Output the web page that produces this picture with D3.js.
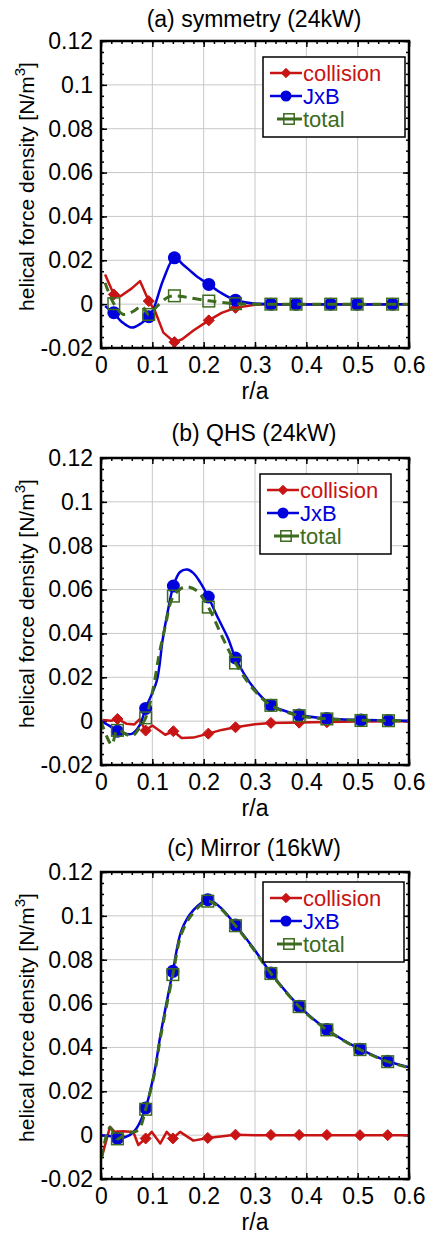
<!DOCTYPE html>
<html><head><meta charset="utf-8">
<script src="https://cdn.jsdelivr.net/npm/d3@7"></script>
<style>
html,body{margin:0;padding:0;background:#fff;}
svg{display:block;font-family:"Liberation Sans",Arial,Helvetica,sans-serif;}
</style></head>
<body>
<svg id="chart" width="426" height="1236"></svg>
<script>
// ---------- data ----------
const titles = ["(a) symmetry (24kW)", "(b) QHS (24kW)", "(c) Mirror (16kW)"];
const seriesNames = ["collision", "JxB", "total"];
const xTicks = [0, 0.1, 0.2, 0.3, 0.4, 0.5, 0.6];
const xTickLabels = ["0", "0.1", "0.2", "0.3", "0.4", "0.5", "0.6"];
const yTicks = [-0.02, 0, 0.02, 0.04, 0.06, 0.08, 0.1, 0.12];
const yTickLabels = ["-0.02", "0", "0.02", "0.04", "0.06", "0.08", "0.1", "0.12"];

// panel (a) symmetry
const aCollisionLine = [[0.008,0.0135],[0.025,0.0044],[0.038,0.0036],[0.06,0.0072],[0.076,0.0105],[0.093,0.0014],[0.105,-0.003],[0.1215,-0.013],[0.143,-0.0173],[0.158,-0.016],[0.18,-0.012],[0.21,-0.0074],[0.235,-0.004],[0.262,-0.0017],[0.3,-0.0003],[0.33,0],[0.6,0]];
const aJxBLine = [[0.008,-0.0009],[0.025,-0.0042],[0.04,-0.008],[0.06,-0.0107],[0.078,-0.0088],[0.093,-0.0057],[0.102,-0.0024],[0.1215,0.0112],[0.143,0.0211],[0.16,0.018],[0.185,0.013],[0.21,0.009],[0.235,0.005],[0.262,0.0018],[0.294,0.0004],[0.33,0],[0.6,0]];
const aTotalLine = [[0.008,0.0097],[0.025,0.0002],[0.0435,-0.0047],[0.0636,-0.0032],[0.079,-0.0009],[0.093,-0.0047],[0.105,-0.002],[0.1286,0.0029],[0.143,0.0038],[0.165,0.0032],[0.21,0.0015],[0.262,0.0002],[0.3,0],[0.6,0]];
const aCollisionMarks = [[0.025,0.0044],[0.093,0.0014],[0.143,-0.0173],[0.21,-0.0074],[0.262,-0.0017],[0.331,0],[0.38,0],[0.4475,0],[0.499,0],[0.568,0]];
const aJxBMarks = [[0.025,-0.0039],[0.093,-0.0057],[0.143,0.0211],[0.21,0.009],[0.262,0.0018],[0.331,0],[0.38,0],[0.4475,0],[0.499,0],[0.568,0]];
const aTotalMarks = [[0.025,0.0002],[0.093,-0.0047],[0.143,0.0038],[0.21,0.0014],[0.262,0.0002],[0.331,0],[0.38,0],[0.4475,0],[0.499,0],[0.568,0]];

// panel (b) QHS
const bCollisionLine = [[0.003,0.0005],[0.02,0.0002],[0.032,0.001],[0.05,-0.0012],[0.065,-0.0015],[0.075,0.0008],[0.087,-0.0043],[0.1,-0.002],[0.125,-0.0062],[0.141,-0.0046],[0.157,-0.0077],[0.18,-0.0075],[0.209,-0.0057],[0.235,-0.004],[0.262,-0.0028],[0.3,-0.0014],[0.331,-0.0008],[0.386,-0.0006],[0.44,-0.0004],[0.5,-0.0002],[0.6,0]];
const bJxBLine = [[0,0],[0.0175,-0.0023],[0.032,-0.0046],[0.06,-0.0058],[0.075,-0.002],[0.087,0.0058],[0.1085,0.0183],[0.12,0.037],[0.13,0.05],[0.141,0.0616],[0.154,0.068],[0.168,0.0691],[0.18,0.0675],[0.193,0.0634],[0.209,0.0566],[0.228,0.047],[0.248,0.0375],[0.262,0.0288],[0.297,0.0153],[0.331,0.0073],[0.36,0.0045],[0.386,0.0028],[0.44,0.0012],[0.5,0.0006],[0.56,0.0003],[0.6,0.0002]];
const bTotalLine = [[0,0],[0.021,-0.0107],[0.032,-0.0042],[0.06,-0.0069],[0.075,-0.003],[0.087,0.0015],[0.102,0.0153],[0.113,0.03],[0.125,0.043],[0.141,0.057],[0.163,0.0612],[0.186,0.0596],[0.209,0.052],[0.238,0.0375],[0.262,0.0265],[0.297,0.0145],[0.331,0.0072],[0.386,0.0025],[0.44,0.001],[0.5,0.0004],[0.6,0.0001]];
const bCollisionMarks = [[0.032,0.001],[0.087,-0.0043],[0.141,-0.0046],[0.209,-0.0057],[0.262,-0.0028],[0.331,-0.0008],[0.386,-0.0007],[0.44,-0.0005],[0.5065,-0.0002],[0.56,-0.0001]];
const bJxBMarks = [[0.032,-0.0046],[0.087,0.0058],[0.141,0.0616],[0.209,0.0566],[0.262,0.0288],[0.331,0.0073],[0.386,0.0028],[0.44,0.0012],[0.5065,0.0005],[0.56,0.0003]];
const bTotalMarks = [[0.032,-0.0042],[0.087,0.0015],[0.141,0.057],[0.209,0.052],[0.262,0.0265],[0.331,0.0072],[0.386,0.0025],[0.44,0.001],[0.5065,0.0003],[0.56,0.0002]];

// panel (c) Mirror
const cCollisionLine = [[0.001,-0.0105],[0.0175,0.0038],[0.027,0.0015],[0.0435,0.0018],[0.063,0.0014],[0.0727,-0.0045],[0.087,-0.0015],[0.0987,0.0015],[0.1155,-0.0038],[0.128,0.0015],[0.14,-0.0015],[0.154,0.0015],[0.18,-0.0025],[0.208,-0.0013],[0.262,0.0002],[0.3,0],[0.6,0]];
const cJxBLine = [[0,0],[0.02,-0.0005],[0.032,-0.0015],[0.056,0],[0.069,0.003],[0.087,0.0124],[0.105,0.03],[0.1155,0.0452],[0.14,0.0747],[0.157,0.0935],[0.18,0.1026],[0.208,0.1074],[0.232,0.104],[0.262,0.0958],[0.297,0.0852],[0.331,0.0739],[0.386,0.0588],[0.44,0.0482],[0.5045,0.0392],[0.5585,0.0337],[0.6,0.031]];
const cTotalLine = [[0.001,-0.0105],[0.0175,0.0035],[0.032,-0.0017],[0.05,0.001],[0.065,0.0015],[0.075,0.003],[0.087,0.0118],[0.105,0.029],[0.1155,0.044],[0.14,0.0732],[0.157,0.092],[0.18,0.1015],[0.208,0.1067],[0.232,0.1035],[0.262,0.0955],[0.297,0.0848],[0.331,0.0737],[0.386,0.0586],[0.44,0.048],[0.5045,0.039],[0.5585,0.0335],[0.6,0.0308]];
const cCollisionMarks = [[0.032,-0.0005],[0.087,-0.0015],[0.14,-0.0015],[0.208,-0.0013],[0.262,0.0002],[0.331,0.0001],[0.386,0.0001],[0.44,0.0001],[0.5045,0],[0.5585,0]];
const cJxBMarks = [[0.032,-0.0015],[0.087,0.0124],[0.14,0.0747],[0.208,0.1074],[0.262,0.0958],[0.331,0.0739],[0.386,0.0588],[0.44,0.0482],[0.5045,0.0392],[0.5585,0.0337]];
const cTotalMarks = [[0.032,-0.0017],[0.087,0.0118],[0.14,0.0732],[0.208,0.1067],[0.262,0.0955],[0.331,0.0737],[0.386,0.0586],[0.44,0.048],[0.5045,0.039],[0.5585,0.0335]];

// ---------- layout / style ----------
const colors = {collision:"#c81414", JxB:"#0000dd", total:"#3c6b1e"};
const panels = [
  {title:titles[0], top:41, titleY:27, legend:{x:263,y:57,w:142,h:80},
   lines:[aCollisionLine,aJxBLine,aTotalLine], marks:[aCollisionMarks,aJxBMarks,aTotalMarks]},
  {title:titles[1], top:458, titleY:441, legend:{x:260,y:474,w:131,h:80},
   lines:[bCollisionLine,bJxBLine,bTotalLine], marks:[bCollisionMarks,bJxBMarks,bTotalMarks]},
  {title:titles[2], top:872, titleY:856, legend:{x:263,y:882,w:141,h:80},
   lines:[cCollisionLine,cJxBLine,cTotalLine], marks:[cCollisionMarks,cJxBMarks,cTotalMarks]}
];
const L = 101, R = 409, H = 307;
const FONT = '"Liberation Sans",Arial,Helvetica,sans-serif';

const svg = d3.select("#chart");

function drawMarker(g, kind, cx, cy, scale) {
  scale = scale || 1;
  if (kind === "collision") {
    const s = 5.5*scale;
    g.append("path").attr("d", `M${cx},${cy-s}L${cx+s},${cy}L${cx},${cy+s}L${cx-s},${cy}Z`)
      .attr("fill", colors.collision).attr("stroke", colors.collision).attr("stroke-width", 1);
  } else if (kind === "JxB") {
    g.append("circle").attr("cx", cx).attr("cy", cy).attr("r", 6.5*scale).attr("fill", colors.JxB);
  } else {
    const s = 5.8*scale;
    g.append("rect").attr("x", cx-s).attr("y", cy-s).attr("width", 2*s).attr("height", 2*s)
      .attr("fill", "none").attr("stroke", colors.total).attr("stroke-width", 1.5);
  }
}

panels.forEach(p => {
  const top = p.top, bottom = p.top + H;
  const x = d3.scaleLinear().domain([0, 0.6]).range([L, R]);
  const y = d3.scaleLinear().domain([-0.02, 0.12]).range([bottom, top]);
  const g = svg.append("g");

  // grid
  g.append("g").selectAll("line").data(xTicks.slice(1, -1)).join("line")
    .attr("x1", d => x(d)).attr("x2", d => x(d)).attr("y1", top).attr("y2", bottom)
    .attr("stroke", "#c8c8c8").attr("stroke-width", 1);
  g.append("g").selectAll("line").data(yTicks.slice(1, -1)).join("line")
    .attr("y1", d => y(d)).attr("y2", d => y(d)).attr("x1", L).attr("x2", R)
    .attr("stroke", "#c8c8c8").attr("stroke-width", 1);

  // axes with inward ticks (major + minor), on all four sides
  const xMinor = d3.range(0, 0.6001, 0.02);
  const yMinor = d3.range(-0.02, 0.12001, 0.005);
  const axB = d3.axisBottom(x).tickValues(xTicks).tickFormat((d,i) => xTickLabels[i]).tickSizeInner(-6).tickSizeOuter(0).tickPadding(9);
  const axBm = d3.axisBottom(x).tickValues(xMinor).tickFormat("").tickSizeInner(-3).tickSizeOuter(0);
  const axT = d3.axisTop(x).tickValues(xTicks).tickFormat("").tickSizeInner(-6).tickSizeOuter(0);
  const axTm = d3.axisTop(x).tickValues(xMinor).tickFormat("").tickSizeInner(-3).tickSizeOuter(0);
  const axL = d3.axisLeft(y).tickValues(yTicks).tickFormat((d,i) => yTickLabels[i]).tickSizeInner(-6).tickSizeOuter(0).tickPadding(8);
  const axLm = d3.axisLeft(y).tickValues(yMinor).tickFormat("").tickSizeInner(-3).tickSizeOuter(0);
  const axR = d3.axisRight(y).tickValues(yTicks).tickFormat("").tickSizeInner(-6).tickSizeOuter(0);
  const axRm = d3.axisRight(y).tickValues(yMinor).tickFormat("").tickSizeInner(-3).tickSizeOuter(0);
  [[axB,`translate(0,${bottom})`],[axBm,`translate(0,${bottom})`],[axT,`translate(0,${top})`],[axTm,`translate(0,${top})`],
   [axL,`translate(${L},0)`],[axLm,`translate(${L},0)`],[axR,`translate(${R},0)`],[axRm,`translate(${R},0)`]].forEach(([ax,tr]) => {
    const a = g.append("g").attr("transform", tr).call(ax);
    a.attr("font-size", 23).attr("font-family", FONT);
    a.select(".domain").remove();
    a.selectAll(".tick line").attr("stroke", "#000").attr("stroke-width", 1.5);
    a.selectAll("text").attr("fill", "#000");
  });

  // series lines
  const clip = "clip" + top;
  svg.append("defs").append("clipPath").attr("id", clip).append("rect")
    .attr("x", L).attr("y", top).attr("width", R-L).attr("height", H);
  const lg = g.append("g").attr("clip-path", `url(#${clip})`);
  const lineLin = d3.line().x(d => x(d[0])).y(d => y(d[1]));
  const lineSmooth = d3.line().x(d => x(d[0])).y(d => y(d[1])).curve(d3.curveCatmullRom.alpha(0.5));
  seriesNames.forEach((name, i) => {
    const path = lg.append("path").datum(p.lines[i])
      .attr("d", name === "collision" ? lineLin : lineSmooth)
      .attr("fill", "none").attr("stroke", colors[name])
      .attr("stroke-width", name === "total" ? 3 : 2.5)
      .attr("stroke-linejoin", "round");
    if (name === "total") path.attr("stroke-dasharray", "9,6");
    p.marks[i].forEach(d => drawMarker(lg, name, x(d[0]), y(d[1])));
  });

  // frame
  g.append("rect").attr("x", L).attr("y", top).attr("width", R-L).attr("height", H)
    .attr("fill", "none").attr("stroke", "#000").attr("stroke-width", 2.5);

  // title
  g.append("text").attr("x", 254).attr("y", p.titleY).attr("text-anchor", "middle")
    .attr("font-size", 23).text(p.title);

  // x label
  g.append("text").attr("x", 255).attr("y", bottom + 51).attr("text-anchor", "middle")
    .attr("font-size", 23).text("r/a");

  // y label
  const yl = g.append("text").attr("transform", `translate(34,${(top+bottom)/2 - 8}) rotate(-90)`)
    .attr("text-anchor", "middle").attr("font-size", 21);
  yl.append("tspan").text("helical force density [N/m");
  yl.append("tspan").attr("dy", -9).attr("font-size", 15).text("3");
  yl.append("tspan").attr("dy", 9).text("]");

  // legend
  const lgd = g.append("g");
  lgd.append("rect").attr("x", p.legend.x).attr("y", p.legend.y).attr("width", p.legend.w).attr("height", p.legend.h)
    .attr("fill", "#fff").attr("stroke", "#000").attr("stroke-width", 1.5);
  seriesNames.forEach((name, i) => {
    const cy = p.legend.y + 16 + i*23;
    const x0 = p.legend.x + 7 + (name === "total" ? 7 : 0), x1 = p.legend.x + 39;
    lgd.append("line").attr("x1", x0).attr("x2", x1).attr("y1", cy).attr("y2", cy)
      .attr("stroke", colors[name]).attr("stroke-width", name === "total" ? 3 : 2.5);
    drawMarker(lgd, name, (p.legend.x + 7 + x1)/2 + (name === "total" ? 3 : 0), cy, name === "total" ? 0.9 : 0.85);
    lgd.append("text").attr("x", p.legend.x + 40).attr("y", cy + 8)
      .attr("font-size", 22).attr("fill", colors[name]).text(name);
  });
});
</script>
</body></html>
